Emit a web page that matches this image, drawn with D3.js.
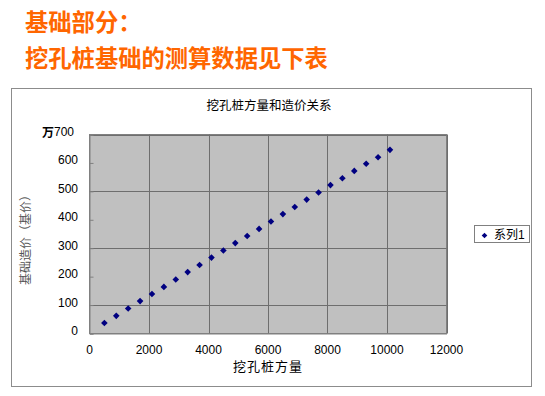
<!DOCTYPE html>
<html><head><meta charset="utf-8">
<script src="https://cdn.jsdelivr.net/npm/d3@7"></script>
<style>body{margin:0;background:#fff;}svg{display:block;}</style>
</head><body><svg id="c" width="545" height="396"></svg>
<script>
const headingLines = ["基础部分：", "挖孔桩基础的测算数据见下表"];
const chartTitle = "挖孔桩方量和造价关系";
const xTitle = "挖孔桩方量";
const yTitle = "基础造价（基价）";
const yUnit = "万";
const seriesName = "系列1";
const volumes = [500,900,1300,1700,2100,2500,2900,3300,3700,4100,4500,4900,5300,5700,6100,6500,6900,7300,7700,8100,8500,8900,9300,9700,10100];
const costs = [37,62,88,114,139,164,190,216,241,267,292,318,343,368,394,420,445,471,496,522,546,572,597,620,646];
const xTicks = [0,2000,4000,6000,8000,10000,12000];
const yTicks = [0,100,200,300,400,500,600,700];
const yGrid = [100,300,500,700];
const xGrid = [2000,4000,6000,8000,10000,12000];

const svg = d3.select("#c");
const cjk = "'Liberation Sans','Noto Sans CJK SC',sans-serif";

svg.selectAll("text.head").data(headingLines).join("text")
  .attr("class","head")
  .attr("x",25).attr("y",(d,i)=>31+i*36)
  .attr("font-family","'Noto Sans CJK SC',sans-serif")
  .attr("font-weight","bold").attr("font-size",23.3)
  .attr("fill","#FF6600").text(d=>d);

// chart frame
svg.append("rect").attr("x",11.5).attr("y",88.5).attr("width",520).attr("height",298)
  .attr("fill","#fff").attr("stroke","#8c8c8c");

const L=89.5, R=446.5, T=134.5, B=333.5;
const x = d3.scaleLinear().domain([0,12000]).range([L,R]);
const y = d3.scaleLinear().domain([0,700]).range([B,T]);

svg.append("rect").attr("x",L).attr("y",T).attr("width",R-L).attr("height",B-T)
  .attr("fill","#C0C0C0").attr("stroke","#808080");

const g = svg.append("g");
g.selectAll("line.hg").data(yGrid).join("line")
  .attr("x1",L).attr("x2",R).attr("y1",d=>Math.round(y(d))+0.5).attr("y2",d=>Math.round(y(d))+0.5)
  .attr("stroke","#6e6e6e");
g.selectAll("line.vg").data(xGrid).join("line")
  .attr("y1",T).attr("y2",B).attr("x1",d=>Math.round(x(d))+0.5).attr("x2",d=>Math.round(x(d))+0.5)
  .attr("stroke","#6e6e6e");

// axes
const ya = svg.append("g").attr("transform",`translate(${L},0)`)
  .call(d3.axisRight(y).tickValues(yTicks).tickSize(4).tickFormat(""));
ya.select(".domain").attr("stroke","#808080");
ya.selectAll(".tick line").attr("stroke","#808080");
svg.selectAll("text.yl").data(yTicks).join("text").attr("class","yl")
  .attr("x",d=>d===700?74:78).attr("y",d=>y(d)+1.5)
  .attr("text-anchor","end").attr("font-family",cjk).attr("font-size",12)
  .attr("fill","#000").text(d=>d);
svg.append("text").attr("x",42).attr("y",y(700)+2).attr("font-family","'Noto Sans CJK SC',sans-serif")
  .attr("font-weight","bold").attr("font-size",12).text(yUnit);

const xa = svg.append("g").attr("transform",`translate(0,${B})`)
  .call(d3.axisBottom(x).tickValues(xTicks).tickSize(0).tickFormat(""));
xa.select(".domain").attr("stroke","#808080");
svg.selectAll("text.xl").data(xTicks).join("text").attr("class","xl")
  .attr("x",d=>x(d)).attr("y",354).attr("text-anchor","middle")
  .attr("font-family",cjk).attr("font-size",12).text(d=>d);

// titles
svg.append("text").attr("x",269).attr("y",110).attr("text-anchor","middle")
  .attr("font-family","'Noto Sans CJK SC',sans-serif").attr("font-size",12.5).text(chartTitle);
svg.append("text").attr("x",268).attr("y",371).attr("text-anchor","middle")
  .attr("font-family","'Noto Sans CJK SC',sans-serif").attr("font-size",13).attr("letter-spacing",1).text(xTitle);
svg.append("text").attr("transform","translate(30,237) rotate(-90)").attr("text-anchor","middle")
  .attr("font-family","'Noto Sans CJK SC',sans-serif").attr("font-size",12).attr("fill","#555").text(yTitle);

// points
const diamond = (cx,cy,r)=>`M${cx},${cy-r}L${cx+r},${cy}L${cx},${cy+r}L${cx-r},${cy}Z`;
svg.selectAll("path.pt").data(volumes.map((v,i)=>[v,costs[i]])).join("path").attr("class","pt")
  .attr("d",d=>diamond(x(d[0]),y(d[1]),3.3)).attr("fill","#000080");

// legend
svg.append("rect").attr("x",474.5).attr("y",225.5).attr("width",55).attr("height",17)
  .attr("fill","#fff").attr("stroke","#808080");
svg.append("path").attr("d",diamond(484.5,235.5,2.8)).attr("fill","#000080");
svg.append("text").attr("x",494).attr("y",239).attr("font-family",cjk).attr("font-size",12).text(seriesName);
</script></body></html>
